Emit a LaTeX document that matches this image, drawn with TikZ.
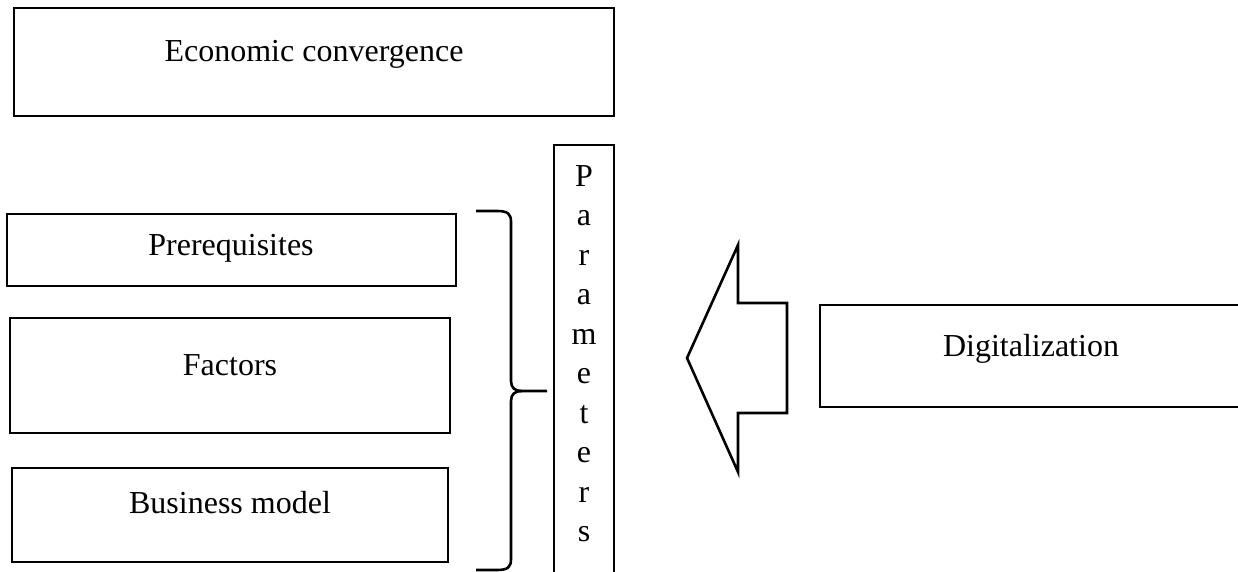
\documentclass[tikz,border=0pt]{standalone}
\usepackage{fontspec}
\setmainfont{Liberation Serif}
\begin{document}
\begin{tikzpicture}[x=1pt,y=-1pt,
  box/.style={draw, line width=2.6pt, inner sep=0pt, rectangle},
  boxtext/.style={anchor=base, inner sep=0pt, font=\fontsize{32}{38}\selectfont},
  outline/.style={draw, line width=2.6pt, line join=miter}]
\useasboundingbox (0,0) rectangle (1238,572);
\clip (0,0) rectangle (1238,572);

% frames
\node[box, minimum width=600pt, minimum height=108pt] (econ) at (314,62) {};
\node[box, minimum width=449pt, minimum height=72pt]  (prereq) at (231.5,250) {};
\node[box, minimum width=440pt, minimum height=115pt] (factors) at (230,375.5) {};
\node[box, minimum width=436pt, minimum height=94pt]  (business) at (230,515) {};
\node[box, minimum width=60pt, minimum height=460pt]  (param) at (584,375) {};
\node[box, minimum width=430pt, minimum height=102pt] (digit) at (1035,356) {};

% captions
\node[boxtext] (econT) at (314,62) {Economic convergence};
\node[boxtext] (prereqT) at (231,255) {Prerequisites};
\node[boxtext] (factorsT) at (230,375) {Factors};
\node[boxtext] (businessT) at (230,513) {Business model};
\node[boxtext] (digitT) at (1031,356) {Digitalization};
\foreach \ch [count=\i from 0] in {P,a,r,a,m,e,t,e,r,s}
  \node[boxtext] (par\i) at (584,186+39.5*\i) {\ch};

% curly brace grouping the three boxes
\draw[outline, line join=round]
  (476,211) -- (497,211) .. controls (508,211) and (511,214) .. (511,222)
  -- (511,381) .. controls (511,388) and (515,391) .. (522,391) -- (547,391);
\draw[outline, line join=round]
  (522,391) .. controls (515,391) and (511,394) .. (511,401)
  -- (511,559) .. controls (511,567) and (508,570) .. (497,570) -- (476,570);

% block arrow pointing left
\draw[outline] (687,358) coordinate (tip) -- (738,245) -- (738,303) -- (787,303)
  -- (787,413) -- (738,413) -- (738,472) -- cycle;
\end{tikzpicture}
\end{document}
